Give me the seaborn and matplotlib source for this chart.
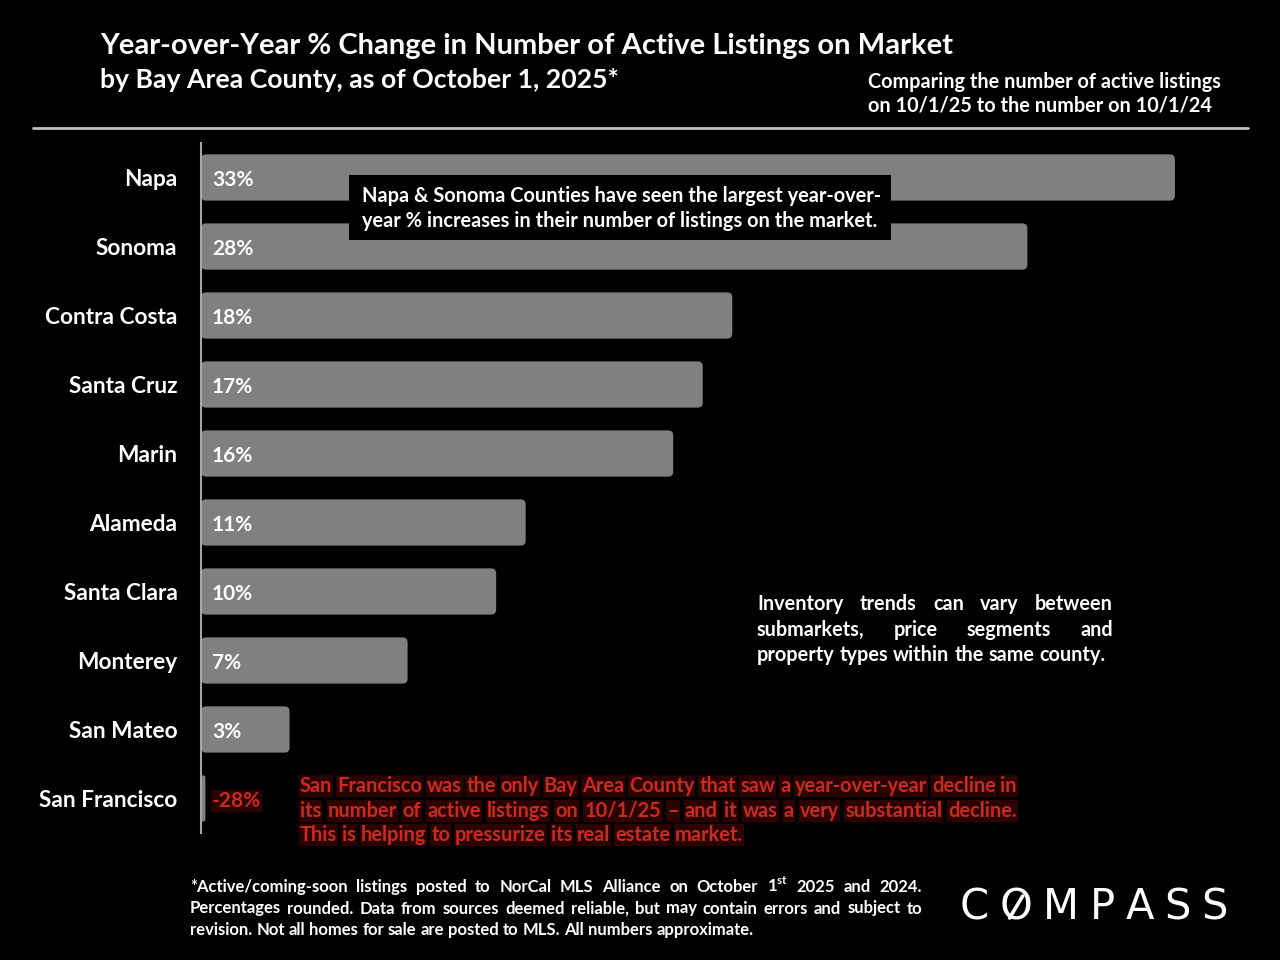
import numpy as np
import pandas as pd
import matplotlib
matplotlib.use("Agg")
import matplotlib.pyplot as plt
import seaborn as sns
from matplotlib.patches import FancyBboxPatch
from matplotlib.lines import Line2D

# data
counties = ['Napa', 'Sonoma', 'Contra Costa', 'Santa Cruz', 'Marin', 'Alameda',
            'Santa Clara', 'Monterey', 'San Mateo', 'San Francisco']
pct_change = [33, 28, 18, 17, 16, 11, 10, 7, 3, -28]
# bar length as drawn on the slide (San Francisco only gets a stub)
bar_shown = [33, 28, 18, 17, 16, 11, 10, 7, 3, 0.15]
pct_labels = [f"{v}%" for v in pct_change]

title = "Year-over-Year % Change in Number of Active Listings on Market"
subtitle = "by Bay Area County, as of October 1, 2025*"
side_note = ["Comparing the number of active listings", "on 10/1/25 to the number on 10/1/24"]
napa_note = ["Napa & Sonoma Counties have seen the largest year-over-",
             "year % increases in their number of listings on the market."]
inv_note = ["Inventory trends can vary between",
            "submarkets, price segments and",
            "property types within the same county."]
sf_note = ["San Francisco was the only Bay Area County that saw a year-over-year decline in",
           "its number of active listings on 10/1/25 \u2013 and it was a very substantial decline.",
           "This is helping to pressurize its real estate market."]
footer = ["*Active/coming-soon listings posted to NorCal MLS Alliance on October 1$^{\\mathbf{st}}$ 2025 and 2024.",
          "Percentages rounded. Data from sources deemed reliable, but may contain errors and subject to",
          "revision. Not all homes for sale are posted to MLS. All numbers approximate."]

BAR = '#808080'
RED = '#CC2A1E'

sns.set_style("dark")
plt.rcParams['font.family'] = ['Lato', 'DejaVu Sans']
plt.rcParams['font.weight'] = 'bold'
plt.rcParams['mathtext.fontset'] = 'custom'
plt.rcParams['mathtext.bf'] = 'Lato:bold'
plt.rcParams['mathtext.rm'] = 'Lato:bold'

W, H = 1280, 960
fig = plt.figure(figsize=(12.8, 9.6), dpi=100, facecolor='black')


def fx(px):
    return px / W


def fy(py):
    return 1 - py / H


def space_width(size):
    r = fig.canvas.get_renderer()
    a = fig.text(0, 0, 'a a', fontsize=size, fontweight='bold')
    b = fig.text(0, 0, 'aa', fontsize=size, fontweight='bold')
    w = (a.get_window_extent(r).width - b.get_window_extent(r).width) / fig.bbox.width
    a.remove()
    b.remove()
    return w


def justified(lines, x0, x1, y0, dy, size, color, bbox=None):
    # word-by-word layout, every line but the last spread to the full width
    r = fig.canvas.get_renderer()
    sp = space_width(size)
    base = 0.36 * size * 100 / 72 / H   # centre line -> baseline
    for i, line in enumerate(lines):
        y = y0 - i * dy - base
        words = line.split(' ')
        texts = [fig.text(0, y, w, fontsize=size, color=color, va='baseline',
                          fontweight='bold', bbox=bbox) for w in words]
        widths = [t.get_window_extent(r).width / fig.bbox.width for t in texts]
        if i == len(lines) - 1:
            gap = sp
        else:
            gap = (x1 - x0 - sum(widths)) / (len(words) - 1)
        x = x0
        for t, w in zip(texts, widths):
            t.set_x(x)
            x += w + gap


# main axes
ax = fig.add_axes([fx(201), fy(833), fx(1234) - fx(201), (833 - 143) / H])
ax.set_facecolor('black')
df = pd.DataFrame({'county': counties, 'shown': bar_shown})
sns.barplot(data=df, x='shown', y='county', orient='h', color=BAR, width=0.67,
            saturation=1, ax=ax)

# swap the plain rectangles for slightly rounded ones
for p in list(ax.patches):
    x, y, w, h = p.get_x(), p.get_y(), p.get_width(), p.get_height()
    rs = min(0.17, w / 2)
    ax.add_patch(FancyBboxPatch((x, y), w, h,
                                boxstyle=f"round,pad=0,rounding_size={rs}",
                                mutation_aspect=0.43, fc=BAR, ec='none', zorder=2))
    p.remove()

ax.set_xlim(0, 35)
ax.set_ylim(9.5, -0.5)
ax.set_xlabel('')
ax.set_ylabel('')
ax.set_xticks([])
ax.grid(False)
for s in ['top', 'right', 'bottom']:
    ax.spines[s].set_visible(False)
ax.spines['left'].set_visible(True)
ax.spines['left'].set_color('#a6a6a6')
ax.spines['left'].set_linewidth(1.5)
ax.spines['left'].set_zorder(3)
ax.set_yticks(range(len(counties)))
ax.set_yticklabels(counties, color='white', fontsize=16.3, fontweight='bold')
ax.tick_params(axis='y', which='major', length=0, pad=17)
ax.set_yticks(np.arange(-0.5, len(counties), 1), minor=True)
ax.tick_params(axis='y', which='minor', length=6, width=1.2, color='#a6a6a6', direction='out')

for i, lab in enumerate(pct_labels):
    if pct_change[i] < 0:
        ax.text(0.37, i + 0.04, lab, color=RED, fontsize=15, fontweight='bold', va='center',
                ha='left', zorder=4,
                bbox=dict(boxstyle='square,pad=0.05', fc='#2B0303', ec='none'))
    else:
        ax.text(0.37, i + 0.04, lab, color='white', fontsize=15, fontweight='bold',
                va='center', ha='left', zorder=4)

# headings
fig.text(fx(100), fy(46), title, color='white', fontsize=21, fontweight='bold', va='center')
fig.text(fx(100), fy(80), subtitle, color='white', fontsize=19.2, fontweight='bold', va='center')
for i, line in enumerate(side_note):
    fig.text(fx(868), fy(82 + 24 * i), line, color='white', fontsize=14.3, fontweight='bold', va='center')
fig.add_artist(Line2D([fx(33), fx(1248)], [fy(128), fy(128)], color='#bfbfbf', lw=2))

# Napa & Sonoma box
fig.patches.append(plt.Rectangle((fx(349), fy(240)), fx(891) - fx(349), (240 - 175) / H,
                                 transform=fig.transFigure, fc='black', ec='none', zorder=5))
for i, line in enumerate(napa_note):
    fig.text(fx(362), fy(196 + 25 * i), line, color='white', fontsize=14.4,
             fontweight='bold', va='center', zorder=6)

justified(inv_note, fx(757), fx(1113), fy(603), 25.5 / H, 14.3, 'white')
justified(sf_note, fx(300), fx(1017), fy(785), 24.5 / H, 14.4, RED,
          bbox=dict(boxstyle='square,pad=0.05', fc='#2B0303', ec='none'))
justified(footer, fx(190), fx(922), fy(886), 21.5 / H, 12, 'white')

# logo
logo = "COMPASS"
r = fig.canvas.get_renderer()
letters = [fig.text(0, fy(907), c, fontsize=30, color='white', va='center',
                    fontweight='normal', family='DejaVu Sans') for c in logo]
wds = [t.get_window_extent(r).width / fig.bbox.width for t in letters]
gap = (fx(1228) - fx(960) - sum(wds)) / (len(logo) - 1)
x = fx(960)
for t, w in zip(letters, wds):
    t.set_x(x)
    x += w + gap
# slash through the O
bb = letters[1].get_window_extent(r).transformed(fig.transFigure.inverted())
fig.add_artist(Line2D([bb.x0 + bb.width * 0.3, bb.x0 + bb.width * 0.7],
                      [fy(918), fy(896)], color='white', lw=2.6))

fig.savefig('out.png', dpi=100, facecolor='black')
